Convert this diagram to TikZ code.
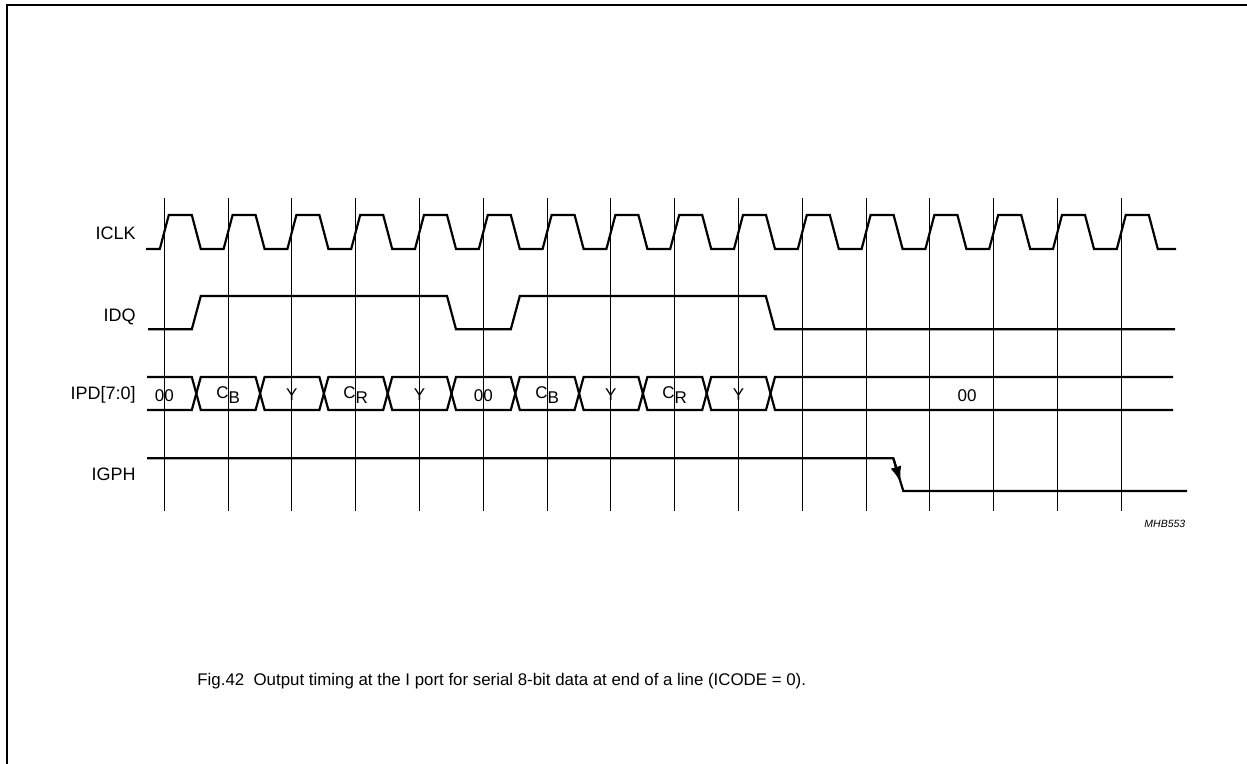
\documentclass[tikz,border=0pt]{standalone}
\usepackage{fontspec}
\setmainfont{Liberation Sans}
\usetikzlibrary{arrows.meta}
\begin{document}
\begin{tikzpicture}[x=0.5pt,y=-0.5pt,
  sig/.style={line width=1.1pt, line join=miter, line cap=butt},
  gridline/.style={line width=0.5pt},
  lbl/.style={anchor=base east, inner sep=0pt, font=\fontsize{9}{10}\selectfont},
  dat/.style={anchor=base, inner sep=0pt, font=\fontsize{8.5}{10}\selectfont},
  ]
\useasboundingbox (0,0) rectangle (1247,764);
% frame
\draw[line width=1pt] (7,764) -- (7,5.5) -- (1247,5.5);
% grid lines
\foreach \k in {0,...,15}
  \draw[gridline] ({164.3+63.8*\k},198) -- ({164.3+63.8*\k},511);
% signal labels
\node[lbl] (lclk) at (136,239.7) {ICLK};
\node[lbl] (ldq)  at (136,321.5) {IDQ};
\node[lbl] (lpd)  at (136,399.7) {IPD[7:0]};
\node[lbl] (lgph) at (136,480.7) {IGPH};
% ICLK
\draw[sig] (146,249)
  foreach \k in {0,...,15} {
    -- ({164.3+63.8*\k-4.5},249) -- ({164.3+63.8*\k+4.5},215)
    -- ({164.3+63.8*\k+27.5},215) -- ({164.3+63.8*\k+36.5},249)
  } -- (1176,249);
% IDQ
\draw[sig] (148,329.3) -- (191.8,329.3) -- (200.8,296) -- (447,296) -- (456,329.3)
  -- (510.8,329.3) -- (519.8,296) -- (765.8,296) -- (774.8,329.3) -- (1175,329.3);
% IPD bus
\draw[sig] (147,377) -- (191.8,377) -- (196.3,393.5) -- (191.8,410) -- (147,410);
\foreach \j in {0,...,8}
  \draw[sig] ({196.3+63.8*\j},393.5) -- ({200.8+63.8*\j},377) -- ({255.6+63.8*\j},377)
    -- ({260.1+63.8*\j},393.5) -- ({255.6+63.8*\j},410) -- ({200.8+63.8*\j},410) -- cycle;
\draw[sig] (1173,377) -- (775,377) -- (770.5,393.5) -- (775,410) -- (1173,410);
% bus data labels
\node[dat] (d0) at (164.3,401.5) {00};
\node[dat] (d1) at (228.1,398.5) {C\raisebox{-2.3pt}{B}};
\node[dat] (d2) at (291.9,400.5) {Y};
\node[dat] (d3) at (355.7,398.5) {C\raisebox{-2.3pt}{R}};
\node[dat] (d4) at (419.5,400.5) {Y};
\node[dat] (d5) at (483.3,401.5) {00};
\node[dat] (d6) at (547.1,398.5) {C\raisebox{-2.3pt}{B}};
\node[dat] (d7) at (610.9,400.5) {Y};
\node[dat] (d8) at (674.7,398.5) {C\raisebox{-2.3pt}{R}};
\node[dat] (d9) at (738.5,400.5) {Y};
\node[dat] (d10) at (967,401.5) {00};
% IGPH
\draw[sig] (147,458.3) -- (893.3,458.3) -- (903.3,491) -- (1187,491);
\coordinate (gA) at (893.3,458.3);
\coordinate (gB) at (900.6,482.5);
\draw[sig, -{Latex[length=8pt,width=5.5pt]}] (gA) -- (gB);
% reference code
\node[anchor=base east, inner sep=0pt, font=\fontsize{5.25}{6}\selectfont\itshape] (code) at (1185.7,527.8) {MHB553};
% caption
\node[anchor=base west, inner sep=0pt, font=\fontsize{8.43}{10}\selectfont] (cap) at (197,685) {Fig.42\ \ Output timing at the I port for serial 8-bit data at end of a line (ICODE = 0).};
\end{tikzpicture}
\end{document}
